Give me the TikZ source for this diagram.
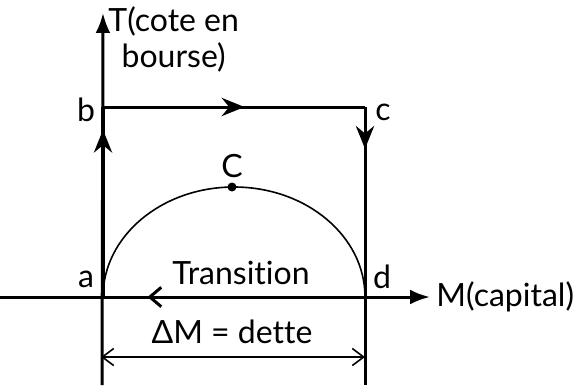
\documentclass[tikz,border=0pt]{standalone}
\usepackage{fontspec}
\setmainfont{Lato}[Ligatures=NoCommon]
\usetikzlibrary{
  arrows.meta,
  positioning,
  calc,
  decorations.markings
}
\tikzset{
  lbl/.style={font=\fontsize{16}{18}\selectfont, inner sep=1pt},
  axisline/.style={-{Latex[length=3.5mm,width=2.6mm]}, line width=1.5pt},
  pathline/.style={line width=1.5pt},
  thinline/.style={line width=0.8pt},
  dimline/.style={{Straight Barb[length=2mm,width=3mm]}-{Straight Barb[length=2mm,width=3mm]}, line width=0.8pt},
  midarrow/.style={postaction={decorate}, decoration={markings,
    mark=at position #1 with {\arrow{Stealth[length=4mm,width=3.2mm]}}}},
  backarrow/.style={postaction={decorate}, decoration={markings,
    mark=at position #1 with {\arrow{Straight Barb[length=2mm,width=3.4mm]}}}}
}
\begin{document}
\begin{tikzpicture}[x=0.5pt, y=-0.5pt]
  \useasboundingbox (0,0) rectangle (581,385);
  % corners of the cycle
  \coordinate (a) at (103,297);
  \coordinate (b) at (103,107);
  \coordinate (c) at (365,107);
  \coordinate (d) at (365,297);
  \coordinate (ybot) at (102,385);
  \coordinate (ytop) at (103,13);
  \coordinate (xleft) at (0,297);
  \coordinate (xright) at (430,297);
  \coordinate (dbot) at (365,385);
  \coordinate (ma) at (101,357);
  \coordinate (md) at (365,357);
  % axes
  \draw[axisline] (ybot) -- (ytop);
  \draw[axisline] (xleft) -- (xright);
  \node[lbl, anchor=west] (mlab) at (434,297) {M(capital)};
  \node[lbl, anchor=north west, align=center] (tlab) at (106,4) {T(cote en\\bourse)};
  % cycle
  \draw[pathline, midarrow=0.88] (a) -- (b);
  \draw[pathline, midarrow=0.54] (b) -- (c);
  \draw[pathline, midarrow=0.22] (c) -- (d);
  \draw[pathline] (d) -- (dbot);
  \draw[pathline, backarrow=0.83] (d) -- (a);
  % transition arc
  \draw[thinline] (a) arc[start angle=180, end angle=360, x radius=131, y radius=110];
  \node[circle, fill, inner sep=0pt, minimum size=4.5pt] (C) at (232,187) {};
  \node[lbl, above=1pt of C] (clab) {C};
  % labels
  \node[lbl] (alab) at (86,279) {a};
  \node[lbl] (blab) at (86,110) {b};
  \node[lbl] (clab2) at (383,112) {c};
  \node[lbl] (dlab) at (382,277) {d};
  \node[lbl] (trans) at (241,273) {Transition};
  \node[lbl] (dette) at (232,332) {ΔM = dette};
  % debt dimension
  \draw[dimline] (ma) -- (md);
\end{tikzpicture}
\end{document}
